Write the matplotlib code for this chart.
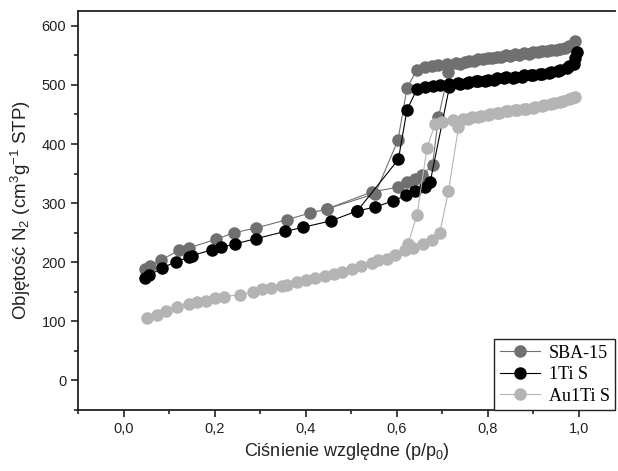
import matplotlib
matplotlib.use("Agg")
import matplotlib.pyplot as plt
from matplotlib.ticker import MultipleLocator, FuncFormatter

# ---- data ----
sba_ads_x = [0.048,0.059,0.083,0.122,0.143,0.204,0.243,0.292,0.359,0.409,0.447,0.546,0.604,0.623,0.641,0.657,0.679,0.692,0.714,0.74,0.76,0.78,0.80,0.82,0.84,0.86,0.88,0.90,0.92,0.94,0.96,0.98,0.993]
sba_ads_y = [189,194,204,220,224,239,250,258,272,283,290,319,327,335,340,348,364,445,521,536,540,543,546,548,550,552,554,556,557,559,561,565,575]
sba_des_x = [0.985,0.97,0.95,0.93,0.91,0.89,0.87,0.85,0.83,0.81,0.79,0.77,0.75,0.73,0.71,0.69,0.677,0.663,0.645,0.623,0.603,0.553,0.447]
sba_des_y = [566,562,559,557,555,553,551,549,547,545,543,541,539,537,535,533,532,531,526,495,406,316,290]

ti_ads_x = [0.048,0.057,0.084,0.116,0.143,0.150,0.194,0.215,0.245,0.292,0.355,0.394,0.456,0.514,0.552,0.593,0.620,0.641,0.662,0.674,0.716,0.74,0.76,0.78,0.80,0.82,0.84,0.86,0.88,0.90,0.92,0.94,0.96,0.98,0.993,0.997]
ti_ads_y = [173,178,190,201,208,211,221,225,231,240,252,259,270,287,293,304,313,320,327,336,496,502,505,507,509,511,513,514,516,517,519,521,525,532,545,555]
ti_des_x = [0.99,0.975,0.955,0.935,0.915,0.895,0.875,0.855,0.835,0.815,0.795,0.775,0.755,0.735,0.715,0.695,0.68,0.663,0.645,0.623,0.604,0.514]
ti_des_y = [535,528,523,520,518,516,514,512,511,509,507,506,504,503,501,499,498,497,493,458,374,287]

au_ads_x = [0.051,0.073,0.093,0.117,0.143,0.161,0.182,0.201,0.221,0.256,0.284,0.304,0.325,0.348,0.359,0.381,0.402,0.421,0.442,0.462,0.481,0.502,0.522,0.546,0.560,0.579,0.597,0.619,0.637,0.659,0.678,0.695,0.714,0.736,0.758,0.78,0.80,0.82,0.84,0.86,0.88,0.90,0.92,0.94,0.96,0.98,0.993]
au_ads_y = [106,111,117,124,130,132,135,139,142,145,150,154,157,160,162,166,170,174,177,180,184,188,193,199,203,206,213,220,224,231,238,250,320,428,442,446,449,452,455,457,459,461,464,467,471,476,480]
au_des_x = [0.985,0.965,0.945,0.925,0.905,0.885,0.865,0.845,0.825,0.805,0.785,0.765,0.745,0.725,0.70,0.685,0.667,0.645,0.625]
au_des_y = [478,473,469,466,463,460,458,456,453,451,448,445,443,440,438,434,394,280,231]

labels = ["SBA-15", "1Ti S", "Au1Ti S"]
colors = ["#707070", "#000000", "#b4b4b4"]

plt.rcParams['font.family'] = ['Liberation Sans', 'DejaVu Sans']
plt.rcParams['mathtext.default'] = 'regular'

fig = plt.figure(figsize=(6.18, 4.71), dpi=100)
ax = fig.add_axes([78/618, 61/471, 537/618, 399/471])

series = [(sba_ads_x, sba_ads_y, sba_des_x, sba_des_y),
          (ti_ads_x, ti_ads_y, ti_des_x, ti_des_y),
          (au_ads_x, au_ads_y, au_des_x, au_des_y)]
for (ax_x, ax_y, dx, dy), lab, c in zip(series, labels, colors):
    ax.plot(ax_x, ax_y, '-o', color=c, lw=0.8, ms=8, mec=c, label=lab)
    ax.plot(dx, dy, '-o', color=c, lw=0.8, ms=8, mec=c)

ax.set_xlim(-0.1, 1.08)
ax.set_ylim(-50, 625)
ax.xaxis.set_major_locator(MultipleLocator(0.2))
ax.xaxis.set_minor_locator(MultipleLocator(0.1))
ax.yaxis.set_major_locator(MultipleLocator(100))
ax.yaxis.set_minor_locator(MultipleLocator(50))
ax.xaxis.set_major_formatter(FuncFormatter(lambda v, p: f"{v:.1f}".replace('.', ',')))
ax.yaxis.set_major_formatter(FuncFormatter(lambda v, p: f"{v:.0f}"))
ax.tick_params(which='both', direction='out', width=1.2, labelsize=10.5, colors='#222222')
ax.tick_params(which='major', length=5)
ax.tick_params(which='minor', length=3)
for s in ['left', 'bottom', 'top']:
    ax.spines[s].set_linewidth(1.3)
    ax.spines[s].set_color('#222222')
ax.spines['right'].set_visible(False)

ax.set_xlabel("Ciśnienie względne (p/p$_0$)", fontsize=13, color='#222222', labelpad=4)
ax.set_ylabel("Objętość N$_2$ (cm$^3$g$^{\u2010 1}$ STP)".replace('\u2010 ', '-'), fontsize=13.5, color='#222222', labelpad=6)

leg = ax.legend(loc='lower right', bbox_to_anchor=(1.0, 0.0), borderaxespad=0,
                fancybox=False, framealpha=1, edgecolor='#222222',
                prop={'family': 'Liberation Serif', 'size': 13},
                handlelength=2.2, handletextpad=0.5, labelspacing=0.25,
                borderpad=0.3)
leg.get_frame().set_linewidth(1.0)

fig.savefig("out.png", dpi=100)
